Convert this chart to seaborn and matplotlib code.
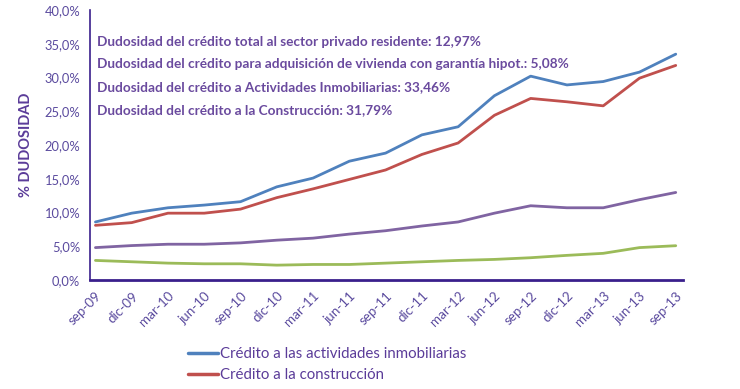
import matplotlib
matplotlib.use("Agg")
import matplotlib.pyplot as plt
import seaborn as sns
import pandas as pd
from matplotlib.ticker import FuncFormatter
from matplotlib.lines import Line2D

periods = ["sep-09", "dic-09", "mar-10", "jun-10", "sep-10", "dic-10", "mar-11", "jun-11",
           "sep-11", "dic-11", "mar-12", "jun-12", "sep-12", "dic-12", "mar-13", "jun-13", "sep-13"]

inmobiliarias = [8.6, 9.9, 10.7, 11.1, 11.6, 13.8, 15.1, 17.6, 18.8, 21.5, 22.7, 27.3, 30.2, 28.9, 29.4, 30.8, 33.46]
construccion = [8.1, 8.5, 9.9, 9.9, 10.5, 12.2, 13.5, 14.9, 16.3, 18.6, 20.3, 24.4, 26.9, 26.4, 25.8, 29.9, 31.79]
total_privado = [4.8, 5.1, 5.3, 5.3, 5.5, 5.9, 6.2, 6.8, 7.3, 8.0, 8.6, 9.9, 11.0, 10.7, 10.7, 11.9, 12.97]
vivienda = [2.9, 2.7, 2.5, 2.4, 2.4, 2.2, 2.3, 2.3, 2.5, 2.7, 2.9, 3.05, 3.3, 3.65, 3.95, 4.8, 5.08]

series_names = ["Crédito a las actividades inmobiliarias", "Crédito a la construcción",
                "Crédito total al sector privado residente", "Crédito para adquisición de vivienda"]
series_values = [inmobiliarias, construccion, total_privado, vivienda]
colors = ["#4F81BD", "#C0504D", "#8064A2", "#9BBB59"]

annotations = [
    "Dudosidad del crédito total al sector privado residente: 12,97%",
    "Dudosidad del crédito para adquisición de vivienda con garantía hipot.: 5,08%",
    "Dudosidad del crédito a Actividades Inmobiliarias: 33,46%",
    "Dudosidad del crédito a la Construcción: 31,79%",
]
annot_y = [35.3, 32.0, 28.6, 25.2]

rows = []
for name, vals in zip(series_names, series_values):
    for i, v in enumerate(vals):
        rows.append({"pos": i, "valor": v, "serie": name})
df = pd.DataFrame(rows)

sns.set_theme(style="white")
plt.rcParams["font.family"] = ["Lato", "DejaVu Sans"]

text_color = "#5B3C99"
tick_color = "#5A4A9E"
axis_color = "#3A1F8C"

fig = plt.figure(figsize=(7.4, 3.89), dpi=100)
ax = fig.add_axes([90 / 740, 1 - 280 / 389, (683 - 90) / 740, 270 / 389])

sns.lineplot(data=df, x="pos", y="valor", hue="serie", palette=colors, hue_order=series_names,
             linewidth=2.0, ax=ax, legend=False, sort=False)

ax.set_xlim(-0.15, 16.2)
ax.set_ylim(0, 40)
ax.set_yticks([0, 5, 10, 15, 20, 25, 30, 35, 40])
ax.yaxis.set_major_formatter(FuncFormatter(lambda v, p: f"{v:.1f}%".replace(".", ",")))
ax.set_xticks(range(len(periods)))
ax.set_xticklabels(periods, rotation=45, ha="right", rotation_mode="anchor")
ax.tick_params(axis="both", length=0, colors=tick_color)
ax.tick_params(axis="y", pad=7, labelsize=9.3)
ax.tick_params(axis="x", pad=7, labelsize=9.6)
ax.set_xlabel("")
ax.set_ylabel("% DUDOSIDAD", color=text_color, fontsize=10.5, fontweight="bold", labelpad=8)

for s in ["top", "right"]:
    ax.spines[s].set_visible(False)
ax.spines["left"].set_color(axis_color)
ax.spines["left"].set_linewidth(1.2)
ax.spines["bottom"].set_color(axis_color)
ax.spines["bottom"].set_linewidth(2.0)

for txt, yv in zip(annotations, annot_y):
    ax.text(0.05, yv, txt, color="#6A4A9E", fontsize=9.85, fontweight="bold", va="center", ha="left")

handles = [Line2D([0], [0], color=colors[0], lw=2.5), Line2D([0], [0], color=colors[1], lw=2.5)]
leg = fig.legend(handles, series_names[:2], loc="upper left", bbox_to_anchor=(188 / 740, 1 - 347 / 389),
                 frameon=False, fontsize=10.8, handlelength=2.0, handletextpad=0.15, borderpad=0,
                 labelspacing=0.45, borderaxespad=0)
for t in leg.get_texts():
    t.set_color(text_color)

fig.savefig("out.png", dpi=100)
